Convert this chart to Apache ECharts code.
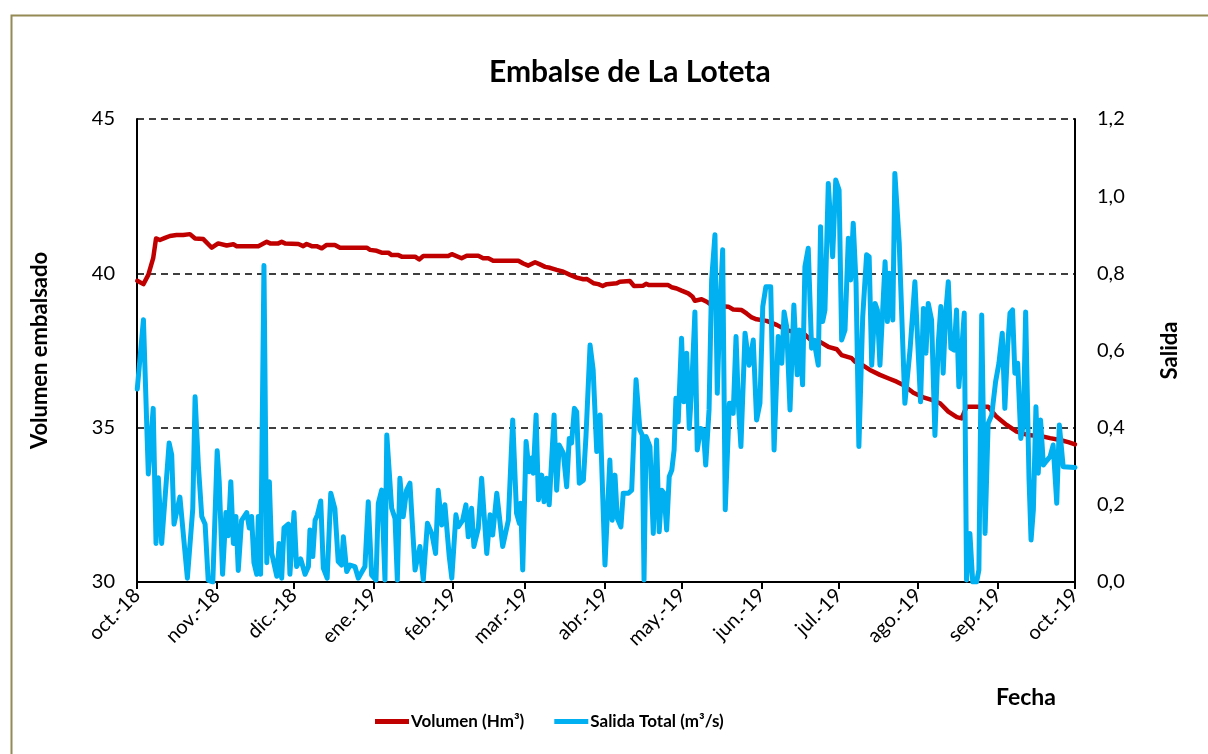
<!DOCTYPE html>
<html>
<head>
<meta charset="utf-8">
<script src="https://cdn.jsdelivr.net/npm/echarts@6/dist/echarts.min.js"></script>
<style>
html,body{margin:0;padding:0;background:#fff;}
#chart{width:1208px;height:754px;}
</style>
</head>
<body>
<div id="chart"></div>
<script>
// Days since 1 Oct 2018
const volDays = [0.1,2.5,4.4,6.3,7.4,8.9,10.9,12.8,15.4,18.0,20.6,22.6,25.8,29.1,31.6,34.9,37.5,38.8,47.2,50.5,51.8,55.0,56.3,57.6,62.8,64.7,66.0,68.0,69.9,71.9,73.8,77.0,79.0,89.4,90.7,93.3,95.2,97.8,99.1,101.7,103.0,108.2,109.8,111.4,121.1,122.5,126.3,128.3,132.8,134.7,136.7,138.6,148.4,150.3,152.3,154.9,156.8,158.8,160.7,163.3,165.9,168.5,171.1,173.7,175.0,177.6,179.5,181.2,182.8,186.7,187.9,191.8,193.4,197.0,198.1,199.3,206.7,208.0,210.0,211.9,214.5,216.2,217.1,219.7,221.7,223.6,226.8,230.1,232.0,235.3,237.2,239.2,241.1,245.0,248.9,252.8,256.7,259.3,261.9,265.8,269.0,272.3,274.2,278.1,279.4,282.6,285.2,289.1,292.3,295.6,298.2,302.1,306.0,309.2,312.5,315.7,319.0,320.9,322.8,331.2,334.5,338.4,342.3,346.8,352.7,355.3,359.2,362.4,365.0];
const volValues = [39.76,39.65,39.95,40.49,41.13,41.08,41.15,41.21,41.24,41.24,41.27,41.13,41.11,40.83,40.97,40.90,40.94,40.88,40.88,41.02,40.97,40.97,41.02,40.97,40.95,40.88,40.95,40.88,40.88,40.81,40.92,40.92,40.83,40.83,40.76,40.73,40.67,40.67,40.59,40.59,40.54,40.54,40.45,40.56,40.56,40.62,40.49,40.57,40.57,40.49,40.49,40.41,40.41,40.32,40.25,40.36,40.29,40.21,40.18,40.11,40.05,39.95,39.86,39.81,39.82,39.68,39.65,39.59,39.65,39.68,39.73,39.75,39.59,39.60,39.66,39.62,39.62,39.55,39.51,39.44,39.35,39.24,39.11,39.16,39.08,38.97,38.94,38.92,38.83,38.81,38.70,38.57,38.51,38.46,38.33,38.16,38.08,38.06,37.86,37.78,37.62,37.54,37.35,37.25,37.14,37.01,36.87,36.71,36.60,36.49,36.38,36.13,35.98,35.90,35.79,35.52,35.34,35.30,35.68,35.68,35.35,35.09,34.87,34.76,34.71,34.66,34.60,34.53,34.46];

const salDays = [0.1,2.5,4.4,6.3,7.4,8.3,9.6,12.5,13.5,14.4,16.7,19.6,21.7,22.6,23.9,24.5,25.2,26.5,27.7,29.5,31.2,32.0,33.3,34.6,35.5,36.5,37.5,38.5,39.4,40.7,42.7,43.7,44.6,45.5,46.6,47.2,48.1,49.4,50.5,51.5,52.4,54.4,55.3,56.3,57.2,58.9,59.5,61.1,62.1,63.7,65.4,66.7,67.3,68.4,69.3,70.2,71.5,72.5,74.0,75.4,77.0,78.3,79.6,80.3,81.6,82.9,84.8,86.1,88.7,90.0,91.3,93.0,93.9,95.2,96.5,97.2,99.1,100.4,101.3,102.3,103.6,104.9,106.2,108.2,110.1,111.4,113.0,114.7,116.2,117.2,118.6,119.8,121.5,122.5,124.1,125.0,126.7,128.0,128.9,130.2,131.1,132.8,134.1,136.1,137.4,138.4,140.0,142.3,144.5,146.2,147.7,148.8,149.3,150.1,151.4,152.6,153.6,154.2,155.3,156.2,157.5,158.4,159.4,160.4,162.3,163.3,164.3,165.9,167.2,168.2,169.1,170.2,171.1,172.1,173.7,174.7,176.3,177.5,178.9,180.2,182.1,184.0,184.9,186.0,186.9,188.3,189.2,191.2,192.5,194.2,195.7,196.6,197.3,198.1,199.6,200.9,202.2,203.2,204.2,205.1,206.1,207.1,208.1,209.0,209.7,210.6,211.3,211.9,212.8,213.9,214.9,215.8,217.1,218.0,219.3,220.4,221.3,222.6,223.6,224.9,225.8,226.8,227.9,228.9,230.5,231.4,232.0,233.1,234.0,235.0,236.6,238.2,239.8,241.1,242.4,243.5,244.7,246.6,247.9,249.5,250.9,251.8,252.8,254.1,255.6,256.9,257.7,259.0,259.9,261.2,262.5,263.4,265.1,266.0,266.8,267.7,269.0,270.7,271.9,273.2,274.2,275.5,276.8,277.7,278.7,279.8,280.9,282.4,283.9,284.9,285.9,287.2,288.1,289.1,291.1,292.0,292.7,294.1,294.9,296.6,298.8,300.8,302.7,304.9,306.0,307.0,307.9,309.2,310.5,311.8,312.8,313.7,314.7,315.7,316.7,318.0,318.9,319.8,320.9,321.9,322.8,324.1,325.2,326.7,327.6,328.7,330.0,331.2,332.6,334.1,335.4,336.7,337.7,338.8,339.7,340.7,341.6,342.7,343.9,344.9,345.8,347.1,347.9,348.8,349.8,350.7,351.6,352.7,353.7,355.3,356.5,357.9,358.9,360.4,365.0];
const salValues = [0.50,0.68,0.28,0.45,0.10,0.27,0.10,0.36,0.33,0.15,0.22,0.01,0.19,0.48,0.30,0.30,0.17,0.15,0.005,0.0,0.34,0.26,0.02,0.18,0.12,0.26,0.10,0.17,0.03,0.16,0.18,0.14,0.17,0.05,0.02,0.17,0.02,0.82,0.05,0.26,0.075,0.015,0.10,0.01,0.14,0.15,0.02,0.18,0.04,0.06,0.02,0.04,0.135,0.066,0.16,0.174,0.21,0.036,0.01,0.23,0.19,0.053,0.044,0.117,0.027,0.044,0.04,0.01,0.04,0.208,0.018,0.005,0.204,0.238,0.005,0.381,0.191,0.165,0.005,0.269,0.169,0.238,0.256,0.031,0.092,0.005,0.152,0.126,0.074,0.238,0.148,0.20,0.066,0.01,0.174,0.143,0.16,0.20,0.117,0.191,0.092,0.139,0.269,0.074,0.174,0.122,0.23,0.092,0.16,0.42,0.178,0.152,0.204,0.031,0.364,0.286,0.321,0.282,0.433,0.213,0.277,0.208,0.269,0.20,0.433,0.238,0.355,0.334,0.247,0.372,0.36,0.45,0.441,0.256,0.264,0.377,0.614,0.55,0.338,0.433,0.044,0.316,0.16,0.277,0.165,0.143,0.23,0.23,0.238,0.524,0.394,0.381,0.005,0.377,0.351,0.126,0.368,0.13,0.238,0.23,0.135,0.273,0.29,0.342,0.476,0.415,0.415,0.632,0.467,0.593,0.398,0.498,0.70,0.342,0.398,0.394,0.303,0.446,0.783,0.90,0.489,0.705,0.861,0.187,0.463,0.463,0.437,0.636,0.463,0.351,0.645,0.562,0.627,0.42,0.463,0.714,0.765,0.765,0.342,0.636,0.567,0.70,0.662,0.446,0.718,0.537,0.653,0.511,0.817,0.865,0.606,0.627,0.562,0.921,0.675,0.705,1.033,0.843,1.042,1.016,0.627,0.653,0.891,0.783,0.93,0.774,0.351,0.688,0.848,0.843,0.562,0.722,0.705,0.562,0.83,0.675,0.80,0.679,1.059,0.878,0.463,0.601,0.778,0.467,0.709,0.593,0.722,0.679,0.38,0.619,0.714,0.541,0.697,0.778,0.606,0.601,0.705,0.506,0.601,0.697,0.005,0.126,0.0,0.0,0.031,0.692,0.126,0.411,0.433,0.519,0.567,0.645,0.45,0.61,0.697,0.705,0.541,0.567,0.372,0.407,0.70,0.269,0.109,0.187,0.454,0.282,0.42,0.303,0.312,0.325,0.355,0.204,0.407,0.299,0.297];

const monthNames = ['ene.','feb.','mar.','abr.','may.','jun.','jul.','ago.','sep.','oct.','nov.','dic.'];
const leftTicks = [30, 35, 40, 45];
const rightTicks = [0, 0.2, 0.4, 0.6, 0.8, 1.0, 1.2];

const start = new Date(2018, 9, 1).getTime();
const end = new Date(2019, 9, 1).getTime();
const DAY = 86400000;
const toPts = (days, vals) => days.map((d, i) => [start + d * DAY, vals[i]]);

const FONT = 'Lato, "Open Sans", sans-serif';
const chart = echarts.init(document.getElementById('chart'), null, {renderer: 'canvas'});
chart.setOption({
  backgroundColor: '#fff',
  animation: false,
  textStyle: {fontFamily: FONT, color: '#000'},
  title: {
    text: 'Embalse de La Loteta',
    left: 484, top: 52,
    textStyle: {fontFamily: FONT, fontSize: 30, fontWeight: 'bold', color: '#000'}
  },
  grid: {left: 137, right: 133, top: 119, bottom: 172, containLabel: false},
  legend: {
    left: 370, top: 708,
    itemWidth: 34, itemHeight: 5, itemGap: 30,
    icon: 'rect',
    textStyle: {fontFamily: FONT, fontSize: 17, fontWeight: 'bold', color: '#000', padding: [0,0,0,-3]},
    data: ['Volumen (Hm³)', 'Salida Total (m³/s)']
  },
  graphic: [
    {type: 'rect', left: 9, top: 13, shape: {x: 0, y: 0, width: 1220, height: 770},
     style: {fill: 'none', stroke: '#948A54', lineWidth: 2}, silent: true, z: -10},
    {type: 'text', left: 996, top: 686,
     style: {text: 'Fecha', font: 'bold 23px ' + FONT, fill: '#000'}}
  ],
  xAxis: {
    type: 'time',
    min: start, max: end,
    minInterval: 28 * DAY, maxInterval: 31 * DAY,
    splitNumber: 12,
    axisLine: {show: true, lineStyle: {color: '#000', width: 2}},
    axisTick: {show: true, length: 7, lineStyle: {color: '#000', width: 2}},
    splitLine: {show: false},
    axisLabel: {
      rotate: 45, margin: 10, fontSize: 20, color: '#000', fontFamily: FONT,
      showMinLabel: true, showMaxLabel: true, hideOverlap: false,
      formatter: function (val) {
        const d = new Date(val);
        return monthNames[d.getMonth()] + '-' + String(d.getFullYear()).slice(2);
      }
    }
  },
  yAxis: [
    {
      type: 'value', min: leftTicks[0], max: leftTicks[leftTicks.length - 1], interval: 5,
      position: 'left',
      name: 'Volumen embalsado', nameLocation: 'middle', nameGap: 86, nameRotate: 90,
      nameTextStyle: {fontFamily: FONT, fontSize: 22, fontWeight: 'bold', color: '#000'},
      axisLine: {show: true, lineStyle: {color: '#000', width: 2}},
      axisTick: {show: false},
      axisLabel: {fontSize: 20, color: '#000', margin: 22, fontFamily: FONT},
      splitLine: {show: true, lineStyle: {color: '#000', width: 1.5, type: [7, 5]}}
    },
    {
      type: 'value', min: rightTicks[0], max: rightTicks[rightTicks.length - 1], interval: 0.2,
      position: 'right',
      name: 'Salida', nameLocation: 'middle', nameGap: 84, nameRotate: 90,
      nameTextStyle: {fontFamily: FONT, fontSize: 22, fontWeight: 'bold', color: '#000'},
      axisLine: {show: true, lineStyle: {color: '#000', width: 2}},
      axisTick: {show: false},
      axisLabel: {fontSize: 20, color: '#000', margin: 22, fontFamily: FONT,
        formatter: v => v.toFixed(1).replace('.', ',')},
      splitLine: {show: false}
    }
  ],
  series: [
    {
      name: 'Volumen (Hm³)', type: 'line', yAxisIndex: 0,
      data: toPts(volDays, volValues),
      showSymbol: false, symbol: 'none',
      lineStyle: {color: '#C00000', width: 4.5, cap: 'round', join: 'round'},
      itemStyle: {color: '#C00000'}, z: 2
    },
    {
      name: 'Salida Total (m³/s)', type: 'line', yAxisIndex: 1,
      data: toPts(salDays, salValues),
      showSymbol: false, symbol: 'none',
      lineStyle: {color: '#00B0F0', width: 5, cap: 'round', join: 'round'},
      itemStyle: {color: '#00B0F0'}, z: 3
    }
  ]
});
</script>
</body>
</html>
